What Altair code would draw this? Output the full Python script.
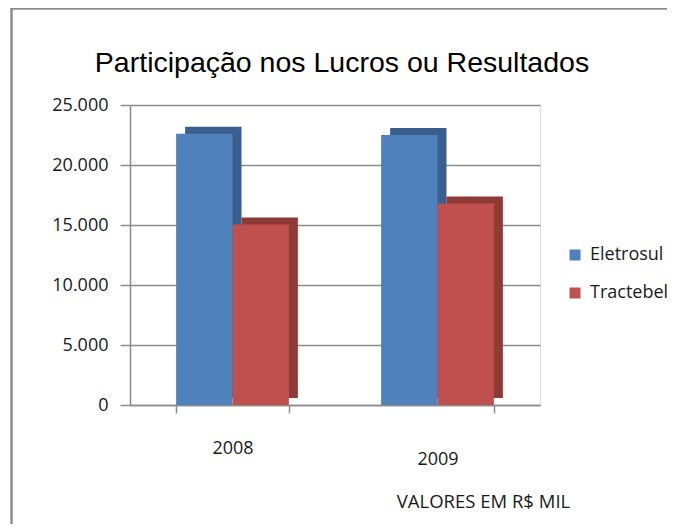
import altair as alt
import pandas as pd

years = ["2008", "2009"]
series = ["Eletrosul", "Tractebel"]
eletrosul = [22600, 22500]
tractebel = [15050, 16800]
y_ticks = [0, 5000, 10000, 15000, 20000, 25000]
colors_front = ["#4F81BD", "#C0504D"]
colors_side = ["#3A5F8E", "#8E3A37"]

rows = []
for i, yr in enumerate(years):
    rows.append({"ano": yr, "empresa": series[0], "valor": eletrosul[i]})
    rows.append({"ano": yr, "empresa": series[1], "valor": tractebel[i]})
df = pd.DataFrame(rows)

FONT = "Open Sans"
GRAY = "#8c8c8c"
DEPTH = 9

x_enc = alt.X(
    "ano:N",
    scale=alt.Scale(paddingInner=0.45, paddingOuter=0.225),
    axis=alt.Axis(
        labelAngle=0,
        labelFont=FONT,
        labelFontSize=18,
        labelColor="#1a1a1a",
        labelPadding={"condition": {"test": "datum.value == '2009'", "value": 37}, "value": 26},
        ticks=True,
        tickBand="extent",
        tickSize=8,
        tickColor=GRAY,
        tickWidth=1.5,
        domainColor=GRAY,
        domainWidth=1.5,
        title="VALORES EM R$ MIL",
        titleFont=FONT,
        titleFontSize=18.5,
        titleFontWeight="normal",
        titleColor="#1a1a1a",
        titleX=353,
        titleY=96,
        titleAlign="center",
        titleBaseline="middle",
        titleAngle=0,
    ),
)
y_enc = alt.Y(
    "valor:Q",
    scale=alt.Scale(domain=[0, 25000], nice=False),
    axis=alt.Axis(
        values=y_ticks,
        labelExpr="replace(format(datum.value, ',d'), ',', '.')",
        labelFont=FONT,
        labelFontSize=18,
        labelColor="#1a1a1a",
        labelPadding=12,
        tickSize=10,
        tickColor=GRAY,
        tickWidth=1.5,
        domainColor=GRAY,
        domainWidth=1.5,
        grid=True,
        gridColor=GRAY,
        gridWidth=1.5,
        title=None,
    ),
)

side = alt.Chart(df).mark_bar(yOffset=-7).encode(
    x=x_enc,
    xOffset=alt.XOffset(
        "empresa:N", sort=series,
        scale=alt.Scale(domain=series, range=[DEPTH, DEPTH + 112.75], paddingInner=0, paddingOuter=0),
    ),
    y=y_enc,
    color=alt.Color("empresa:N", scale=alt.Scale(domain=series, range=colors_side), legend=None),
)

front = alt.Chart(df).mark_bar().encode(
    x=x_enc,
    xOffset=alt.XOffset("empresa:N", sort=series),
    y=y_enc,
    color=alt.Color(
        "empresa:N",
        scale=alt.Scale(domain=series, range=colors_front),
        legend=alt.Legend(
            title=None,
            orient="none",
            legendX=436,
            legendY=141,
            symbolType="square",
            symbolSize=121,
            symbolStrokeWidth=0,
            labelFont=FONT,
            labelFontSize=18,
            labelColor="#1a1a1a",
            labelOffset=6,
            rowPadding=20,
        ),
    ),
)

dummy = pd.DataFrame({"a": [0]})
frame_left = alt.Chart(dummy).mark_rule(color=GRAY, strokeWidth=2.5).encode(
    x=alt.value(-118.5), y=alt.value(-97), y2=alt.value(440)
)
frame_top = alt.Chart(dummy).mark_rule(color=GRAY, strokeWidth=2.5).encode(
    x=alt.value(-119.5), x2=alt.value(560), y=alt.value(-96.5)
)

chart = (
    alt.layer(side, front, frame_left, frame_top)
    .resolve_scale(color="independent", xOffset="independent")
    .properties(
        width=410,
        height=300,
        autosize=alt.AutoSizeParams(type="none"),
        padding={"left": 122, "top": 97, "right": 127, "bottom": 119},
        title=alt.TitleParams(
            "Participação nos Lucros ou Resultados",
            font="Liberation Sans",
            fontSize=28.5,
            fontWeight="normal",
            color="#000000",
            anchor="middle",
            frame="group",
            offset=-71,
            dx=7,
        ),
    )
    .configure_view(stroke=None)
    .configure(background="white")
)

chart.save("out.html", embed_options={"renderer": "svg", "actions": False})
